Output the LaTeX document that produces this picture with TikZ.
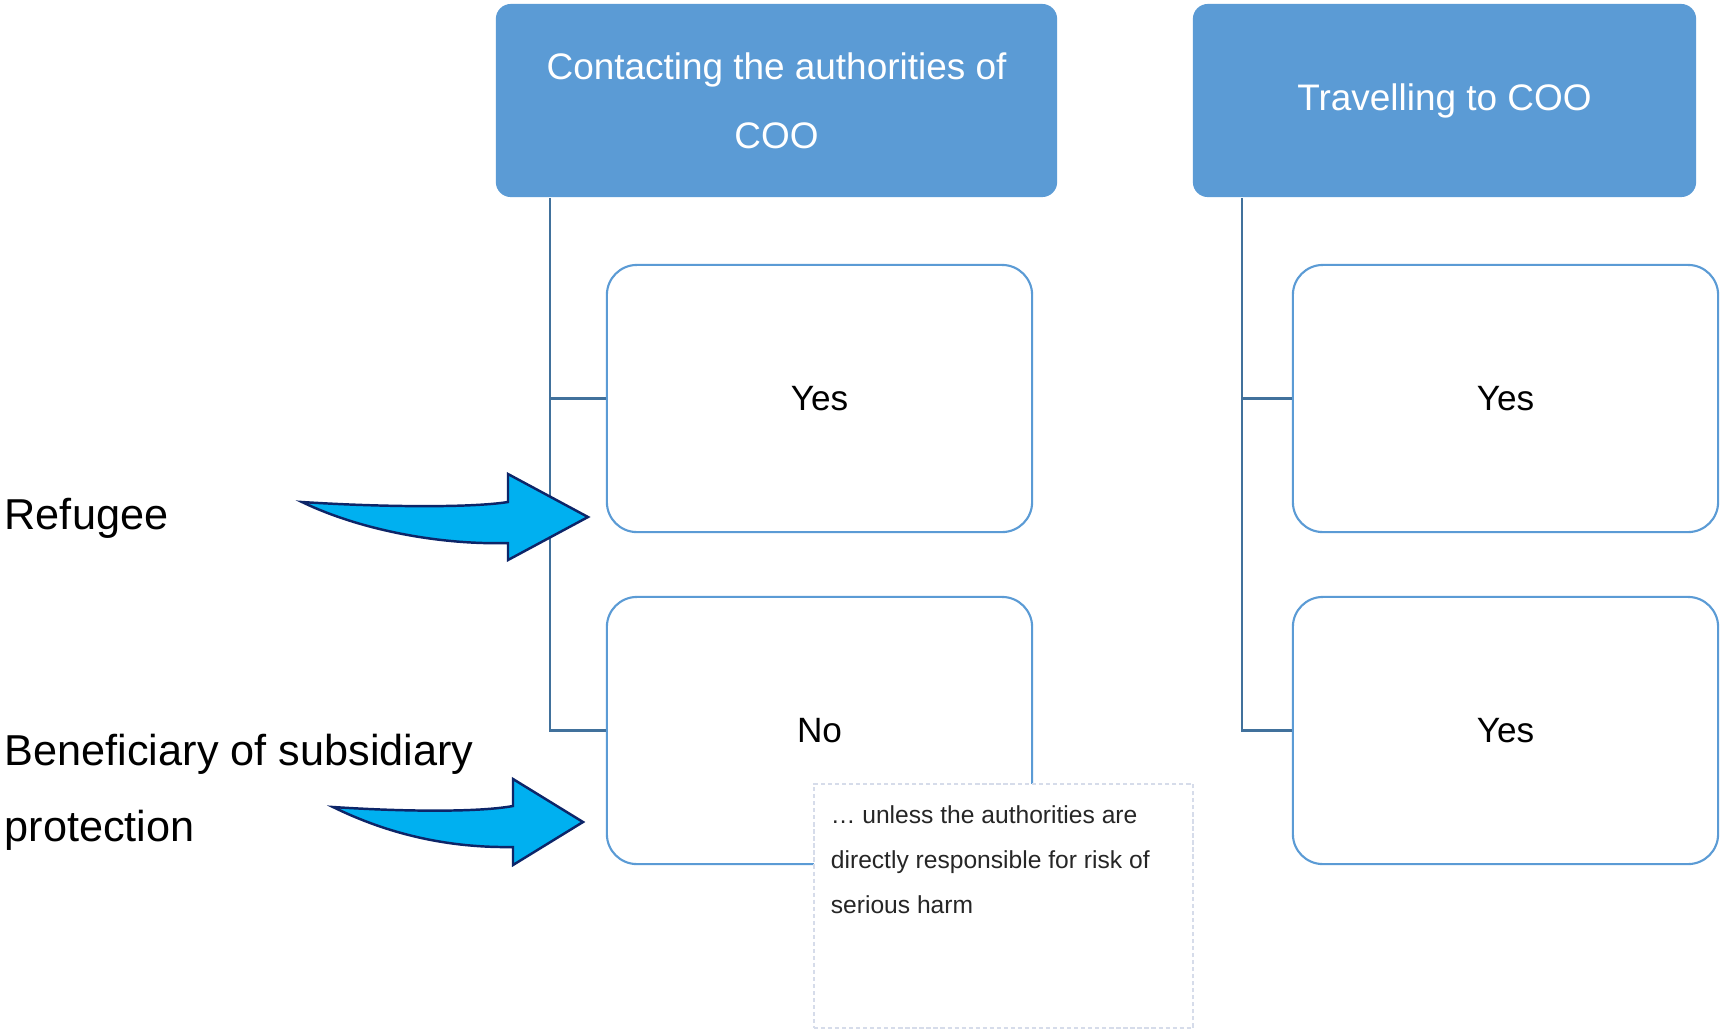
\documentclass[tikz,border=0pt]{standalone}
\usepackage{fontspec}
\setmainfont{Liberation Sans}
\usepackage{tikz}
\usetikzlibrary{shapes,arrows}
\usetikzlibrary{positioning}
\definecolor{headblue}{HTML}{5B9BD5}
\definecolor{linkblue}{HTML}{41719C}
\definecolor{arrowfill}{HTML}{00B0F0}
\definecolor{arrowline}{HTML}{0D2568}
\definecolor{noteline}{HTML}{D6DCEA}
\tikzstyle{head} = [rectangle, rounded corners=0.15cm, fill=headblue, text=white, minimum height=1.93cm, align=center, font=\fontsize{10.5}{19.7}\selectfont]
\tikzstyle{answer} = [rectangle, rounded corners=0.3cm, draw=headblue, line width=0.6pt, fill=white, minimum width=4.25cm, minimum height=2.67cm, font=\fontsize{10}{12}\selectfont]
\tikzstyle{note} = [rectangle, draw=noteline, dash pattern=on 1.2pt off 0.8pt, line width=0.4pt, fill=white, minimum width=3.79cm, minimum height=2.44cm]
\tikzstyle{notetext} = [align=left, inner sep=0pt, font=\fontsize{7}{12.8}\selectfont, text=black!85]
\tikzstyle{side} = [inner sep=0pt, align=left, font=\fontsize{12.3}{21.6}\selectfont]
\tikzstyle{link} = [draw=linkblue, line width=0.6pt]
\tikzstyle{bigarrow} = [fill=arrowfill, draw=arrowline, line width=0.7pt, line join=miter]

\begin{document}
\begin{tikzpicture}[x=0.01cm, y=-0.01cm]
	\useasboundingbox (0,0) rectangle (1720,1029);
	\node [head, minimum width=5.61cm] (contact) at (776.5,100.5) {Contacting the authorities of\\COO};
	\node [head, minimum width=5.03cm] (travel) at (1444.5,100.5) {Travelling to COO};
	\coordinate (trunkA) at ([xshift=0.55cm]contact.south west);
	\coordinate (trunkB) at ([xshift=0.5cm]travel.south west);
	\node [answer] (contactyes) at (819.5,398.5) {Yes};
	\node [answer] (contactno) at (819.5,730.5) {No};
	\node [answer] (travelyes) at (1505.5,398.5) {Yes};
	\node [answer] (travelyestoo) at (1505.5,730.5) {Yes};
	\draw [link] (trunkA) |- (contactno.west);
	\draw [link] (trunkA |- contactyes.west) -- (contactyes.west);
	\draw [link] (trunkB) |- (travelyestoo.west);
	\draw [link] (trunkB |- travelyes.west) -- (travelyes.west);
	\node [note] (unless) at (1003.5,906) {};
	\node [notetext, anchor=north west] (unlesstext) at ([shift={(0.17cm,-0.22cm)}]unless.north west) {… unless the authorities are\\directly responsible for risk of\\serious harm};
	\node [side, anchor=base west] (refugee) at (4,529) {Refugee};
	\node [side, anchor=base west] (subsidiary) at (4,841) {Beneficiary of subsidiary\\protection};
	\draw [bigarrow] (302,502) .. controls (380,507) and (470,508) .. (508,502) -- (508,474) -- (588,517) -- (508,560) -- (508,543) .. controls (440,545) and (360,530) .. cycle;
	\draw [bigarrow] (333,807) .. controls (410,812) and (480,812) .. (513,806) -- (513,779) -- (583,822) -- (513,865) -- (513,847) .. controls (450,848) and (390,835) .. cycle;
\end{tikzpicture}
\end{document}
